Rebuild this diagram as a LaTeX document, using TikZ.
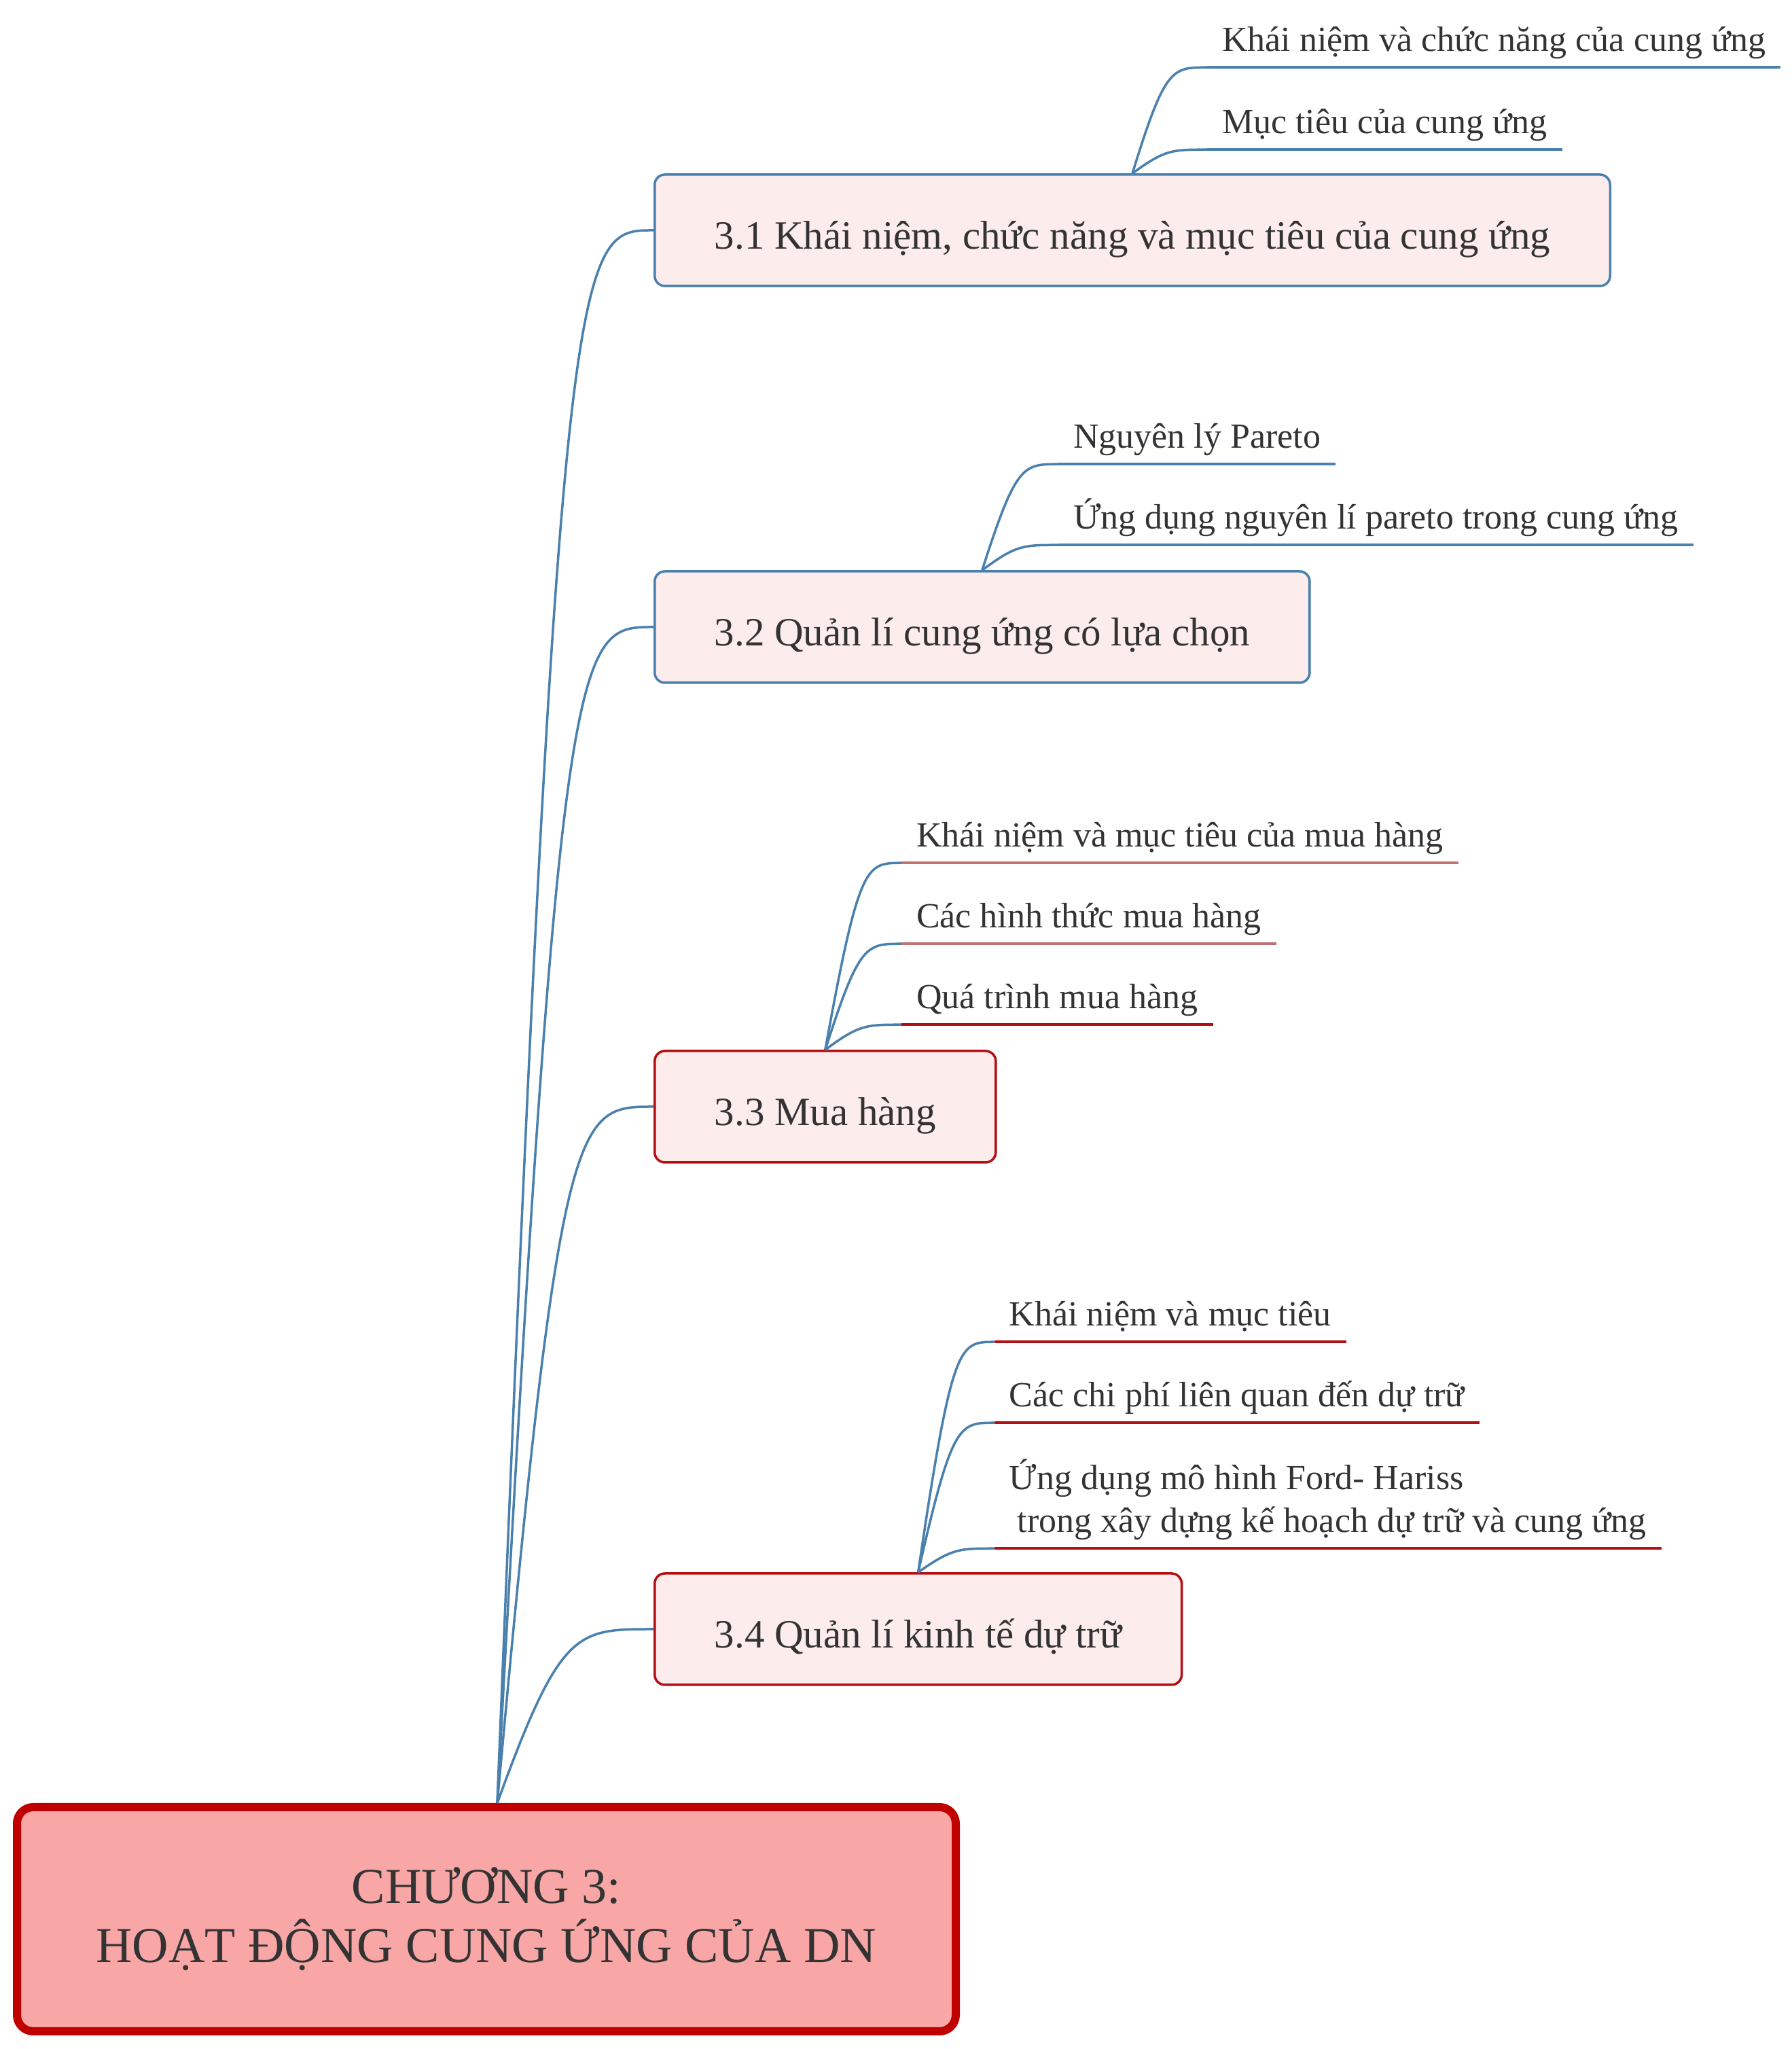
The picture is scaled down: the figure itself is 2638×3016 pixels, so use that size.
\documentclass[tikz,border=0pt]{standalone}
\usepackage{fontspec}
\setmainfont{Liberation Serif}
\usetikzlibrary{positioning,calc}
\definecolor{cBlue}{HTML}{4A80AD}
\definecolor{cRed}{HTML}{B30F14}
\definecolor{cFade}{HTML}{BF7373}
\definecolor{cFill}{HTML}{FDECEC}
\definecolor{cRoot}{HTML}{F8A6A6}
\definecolor{cRootLine}{HTML}{C00000}
\definecolor{cText}{HTML}{333333}
\tikzset{
  root/.style={rounded corners=24pt, draw=cRootLine, line width=12pt, fill=cRoot,
               text=cText, align=center, font=\fontsize{74pt}{87pt}\selectfont,
               minimum width=1382pt, minimum height=330pt},
  box/.style={rounded corners=15pt, draw=#1, line width=3.5pt, fill=cFill,
              text=cText, font=\fontsize{59pt}{71pt}\selectfont, inner xsep=88pt,
              text height=66pt, text depth=11pt, minimum height=164pt, anchor=west},
  boxb/.style={box=cBlue},
  boxr/.style={box=cRed},
  leaf/.style={text=cText, align=left, font=\fontsize{52pt}{63pt}\selectfont,
               inner xsep=22pt, inner ysep=13pt, text depth=11pt, anchor=south west},
  link/.style={draw=cBlue, line width=3.5pt},
  uline/.style={line width=3.5pt},
}
\begin{document}
\begin{tikzpicture}[x=1pt, y=1pt]
  \useasboundingbox (0,0) rectangle (2638,3016);

  % chapter and its four sections
  \node[root] (root) at (716,191) {CHƯƠNG 3:\\HOẠT ĐỘNG CUNG ỨNG CỦA DN};
  \node[boxb] (b31) at (962,2677) {3.1 Khái niệm, chức năng và mục tiêu của cung ứng};
  \node[boxb] (b32) at (962,2093) {3.2 Quản lí cung ứng có lựa chọn};
  \node[boxr] (b33) at (962,1387) {3.3 Mua hàng};
  \node[boxr] (b34) at (962,618) {3.4 Quản lí kinh tế dự trữ};
  \coordinate (hub) at ($(root.north)+(16,0)$);

  % sub-topics, stacked upwards from each box
  \node[leaf, above right=35pt and 110pt of b31.north] (s312) {Mục tiêu của cung ứng};
  \node[leaf, above right=121pt and 0pt of s312.south west] (s311) {Khái niệm và chức năng của cung ứng};

  \node[leaf, above right=37pt and 112pt of b32.north] (s322) {Ứng dụng nguyên lí pareto trong cung ứng};
  \node[leaf, above right=119pt and 0pt of s322.south west] (s321) {Nguyên lý Pareto};

  \node[leaf, above right=37pt and 112pt of b33.north] (s333) {Quá trình mua hàng};
  \node[leaf, above right=119pt and 0pt of s333.south west] (s332) {Các hình thức mua hàng};
  \node[leaf, above right=119pt and 0pt of s332.south west] (s331) {Khái niệm và mục tiêu của mua hàng};

  \node[leaf, above right=35pt and 112pt of b34.north] (s343) {Ứng dụng mô hình Ford- Hariss\\\hspace*{12pt}trong xây dựng kế hoạch dự trữ và cung ứng};
  \node[leaf, above right=185pt and 0pt of s343.south west] (s342) {Các chi phí liên quan đến dự trữ};
  \node[leaf, above right=119pt and 0pt of s342.south west] (s341) {Khái niệm và mục tiêu};

  % branches
  \foreach \b in {b31,b32,b33,b34}
    \draw[link] (hub) .. controls ($(\b.west)+(-137,0)$) and ($(\b.west)+(-114,0)$) .. (\b.west);
  \foreach \b/\s in {b31/s311,b31/s312,b32/s321,b32/s322,b33/s331,b33/s332,b33/s333,b34/s341,b34/s342,b34/s343}
    \draw[link] (\b.north) .. controls ($(\s.south west)+(-62,0)$) and ($(\s.south west)+(-52,0)$) .. (\s.south west);
  \foreach \s/\c in {s311/cBlue,s312/cBlue,s321/cBlue,s322/cBlue,s331/cFade,s332/cFade,s333/cRed,s341/cRed,s342/cRed,s343/cRed}
    \draw[uline, draw=\c] (\s.south west) -- (\s.south east);
\end{tikzpicture}
\end{document}
